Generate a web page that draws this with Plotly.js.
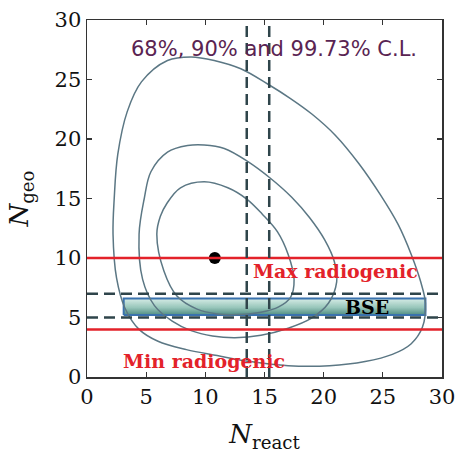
<!DOCTYPE html>
<html>
<head>
<meta charset="utf-8">
<script src="https://cdn.plot.ly/plotly-3.0.1.min.js"></script>
<style>html,body{margin:0;padding:0;background:#fff;}#chart{width:458px;height:455px;}</style>
</head>
<body>
<div id="chart"></div>
<script>
// Contour levels (closed curves)
const cl99X = [2.2, 2.3, 2.6, 3.4, 4.6, 6.8, 8.8, 10.75, 13.0, 15.3, 17.2, 19.0, 21.0, 23.0, 24.8, 26.3, 27.4, 28.2, 28.6, 28.35, 27.4, 25.8, 23.5, 20.5, 17.0, 13.8, 11.0, 8.4, 6.0, 4.4, 3.2, 2.5, 2.2];
const cl99Y = [12.0, 15.0, 18.7, 22.3, 24.8, 26.6, 26.9, 26.6, 25.9, 24.6, 23.4, 22.1, 20.3, 17.9, 15.3, 12.8, 10.3, 8.0, 6.2, 4.2, 2.8, 1.9, 1.3, 0.95, 0.95, 1.3, 1.8, 2.3, 3.0, 4.0, 5.8, 8.3, 12.0];
const cl90X = [4.4, 4.84, 5.4, 6.8, 8.5, 9.9, 11.6, 13.6, 15.5, 17.3, 18.8, 20.1, 20.9, 21.1, 20.4, 18.9, 17.0, 14.7, 12.5, 10.6, 8.8, 7.2, 5.7, 4.7, 4.4];
const cl90Y = [12.0, 15.0, 17.25, 18.9, 19.45, 19.5, 19.2, 18.1, 16.7, 15.1, 13.4, 11.5, 9.7, 8.0, 6.2, 4.9, 4.1, 3.5, 3.3, 3.45, 3.9, 4.7, 6.0, 8.2, 12.0];
const cl68X = [5.9, 6.2, 6.76, 7.9, 9.9, 11.9, 13.5, 14.8, 16.1, 17.0, 17.5, 17.2, 16.2, 14.7, 12.8, 11.0, 9.3, 7.6, 6.5, 5.9];
const cl68Y = [12.0, 13.5, 14.6, 15.9, 16.4, 15.9, 14.95, 13.7, 12.2, 10.3, 8.2, 6.7, 5.9, 5.45, 5.25, 5.3, 5.7, 6.8, 8.9, 12.0];
// best fit point
const bestFitX = [10.8];
const bestFitY = [10.0];
// BSE model box
const bseBoxX = [3.1, 28.6];
const bseBoxY = [5.2, 6.6];
// horizontal / vertical levels
const radiogenicLevels = [10, 4];          // max, min radiogenic (red)
const bseDashedLevels = [7, 5];            // dashed horizontal
const reactorDashedLevels = [13.5, 15.4];  // dashed vertical
const tickVals = [0, 5, 10, 15, 20, 25, 30];

const contourColor = '#5b7784';
const dashColor = '#2f454b';
const redColor = '#e3222a';

function contour(x, y) {
  return {x: x, y: y, type: 'scatter', mode: 'lines',
    line: {color: contourColor, width: 1.5, shape: 'spline', smoothing: 1},
    hoverinfo: 'skip', showlegend: false};
}

const boxTrace = {
  x: [bseBoxX[0], bseBoxX[1], bseBoxX[1], bseBoxX[0], bseBoxX[0]],
  y: [bseBoxY[0], bseBoxY[0], bseBoxY[1], bseBoxY[1], bseBoxY[0]],
  type: 'scatter', mode: 'lines', fill: 'toself',
  fillgradient: {type: 'vertical', colorscale: [[0, '#3c8074'], [0.45, '#8cc0b3'], [1, '#d3ebe4']]},
  line: {color: '#2563a5', width: 2}, opacity: 0.9,
  hoverinfo: 'skip', showlegend: false
};

const data = [
  boxTrace,
  contour(cl99X, cl99Y),
  contour(cl90X, cl90Y),
  contour(cl68X, cl68Y),
  {x: bestFitX, y: bestFitY, type: 'scatter', mode: 'markers',
   marker: {color: '#000', size: 12}, showlegend: false}
];

const shapes = [];
radiogenicLevels.forEach(v => shapes.push({type: 'line', xref: 'paper', yref: 'y', x0: 0, x1: 1, y0: v, y1: v,
  line: {color: redColor, width: 2.5}}));
bseDashedLevels.forEach(v => shapes.push({type: 'line', xref: 'paper', yref: 'y', x0: 0, x1: 1, y0: v, y1: v,
  line: {color: dashColor, width: 2.5, dash: '11px,6px'}}));
reactorDashedLevels.forEach(v => shapes.push({type: 'line', xref: 'x', yref: 'paper', x0: v, x1: v, y0: 0, y1: 1,
  line: {color: dashColor, width: 2.5, dash: '11px,6px'}}));

const serif = 'DejaVu Serif, Liberation Serif, serif';

const layout = {
  width: 458, height: 455,
  margin: {l: 87, r: 16, t: 20, b: 78},
  paper_bgcolor: '#fff', plot_bgcolor: '#fff',
  showlegend: false,
  xaxis: {range: [0, 30], tickvals: tickVals, ticks: 'inside', ticklen: 5, tickwidth: 1.2, tickcolor: '#333',
    showline: true, linecolor: '#333', linewidth: 1.5, mirror: 'ticks', showgrid: false, zeroline: false,
    tickfont: {family: serif, size: 21, color: '#111'},
    title: {text: '<i>N</i><sub>react</sub>', font: {family: serif, size: 26, color: '#111'}, standoff: 17}},
  yaxis: {range: [0, 30], tickvals: tickVals, ticks: 'inside', ticklen: 5, tickwidth: 1.2, tickcolor: '#333',
    showline: true, linecolor: '#333', linewidth: 1.5, mirror: 'ticks', showgrid: false, zeroline: false,
    tickfont: {family: serif, size: 21, color: '#111'},
    title: {text: '<i>N</i><sub>geo</sub>', font: {family: serif, size: 26, color: '#111'}, standoff: 18}},
  shapes: shapes,
  annotations: [
    {x: 15.8, y: 27.6, xref: 'x', yref: 'y', text: '68%, 90% and 99.73% C.L.', showarrow: false,
     font: {family: 'DejaVu Sans, Liberation Sans, sans-serif', size: 21, color: '#5a2452'}},
    {x: 21.0, y: 8.9, xref: 'x', yref: 'y', text: '<b>Max radiogenic</b>', showarrow: false,
     font: {family: serif, size: 19, color: redColor}},
    {x: 9.9, y: 1.35, xref: 'x', yref: 'y', text: '<b>Min radiogenic</b>', showarrow: false,
     font: {family: serif, size: 19, color: redColor}},
    {x: 23.7, y: 5.85, xref: 'x', yref: 'y', text: '<b>BSE</b>', showarrow: false,
     font: {family: serif, size: 19, color: '#000'}}
  ]
};

Plotly.newPlot('chart', data, layout, {displayModeBar: false, staticPlot: true});
</script>
</body>
</html>
